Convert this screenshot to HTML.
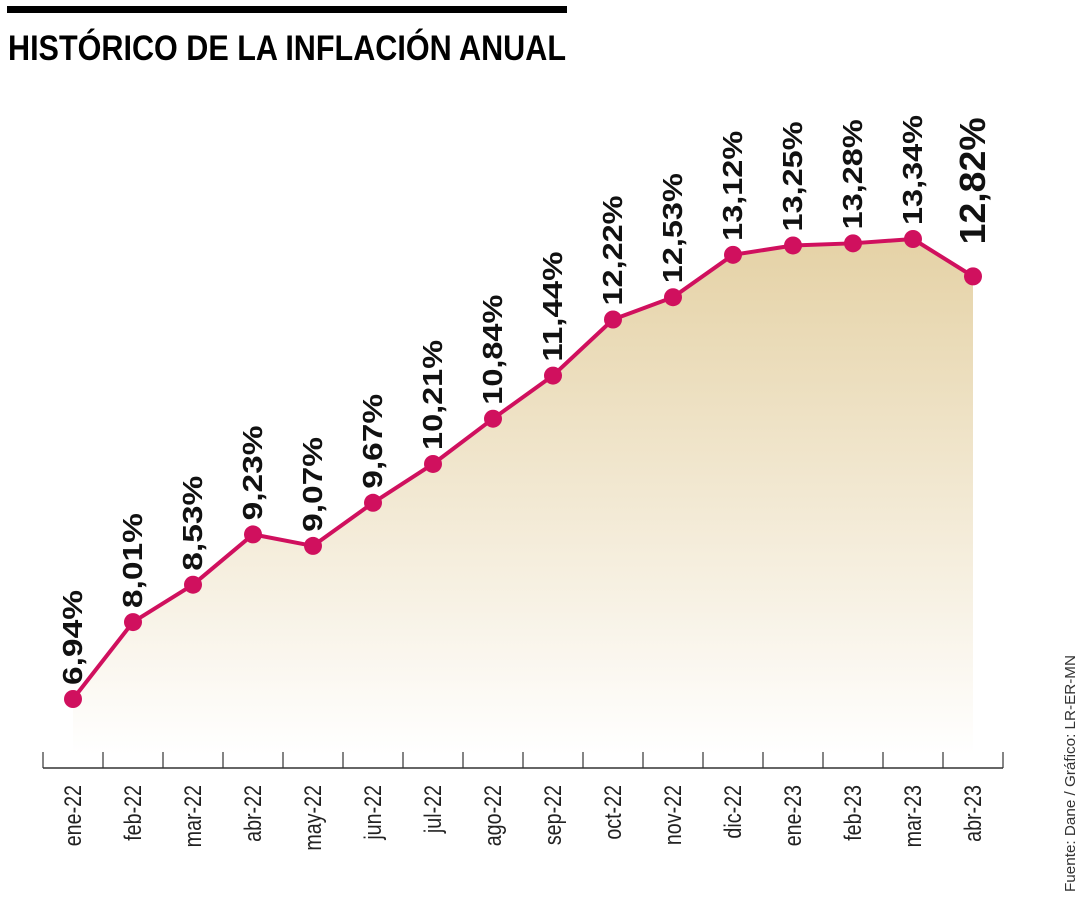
<!DOCTYPE html>
<html><head><meta charset="utf-8"><style>
html,body{margin:0;padding:0;background:#fff;}
svg{display:block;font-family:"Liberation Sans",sans-serif;}
</style></head><body>
<svg id="chart" width="1080" height="900" viewBox="0 0 1080 900">
<defs>
<linearGradient id="fillg" x1="0" y1="0" x2="0" y2="1">
<stop offset="0" stop-color="#e5d2a6"/>
<stop offset="1" stop-color="#ffffff"/>
</linearGradient>
</defs>
<rect x="7" y="6" width="560" height="7" fill="#000"/>
<text x="8" y="60" font-size="35" font-weight="bold" textLength="558" lengthAdjust="spacingAndGlyphs" fill="#000">HISTÓRICO DE LA INFLACIÓN ANUAL</text>
<text transform="translate(1075,892) rotate(-90)" font-size="15" textLength="237" lengthAdjust="spacingAndGlyphs" fill="#333">Fuente: Dane / Gráfico: LR-ER-MN</text>
<g id="plot"></g>
</svg>
<script>
const categories = ["ene-22","feb-22","mar-22","abr-22","may-22","jun-22","jul-22","ago-22","sep-22","oct-22","nov-22","dic-22","ene-23","feb-23","mar-23","abr-23"];
const values = [6.94,8.01,8.53,9.23,9.07,9.67,10.21,10.84,11.44,12.22,12.53,13.12,13.25,13.28,13.34,12.82];
const valueLabels = ["6,94%","8,01%","8,53%","9,23%","9,07%","9,67%","10,21%","10,84%","11,44%","12,22%","12,53%","13,12%","13,25%","13,28%","13,34%","12,82%"];

const NS = "http://www.w3.org/2000/svg";
const g = document.getElementById('plot');
function xPos(i){ return 73 + i*60; }
function yPos(v){ return 699 - (v - 6.94) * 71.875; }
function mk(tag, attrs){ const e=document.createElementNS(NS,tag); for(const k in attrs) e.setAttribute(k,attrs[k]); g.appendChild(e); return e; }

let d = "M"+xPos(0)+",755 ";
values.forEach((v,i)=>{ d += "L"+xPos(i)+","+yPos(v)+" "; });
d += "L"+xPos(values.length-1)+",755 Z";
const area = mk('path',{d:d,fill:'url(#fillg)'});



const axis = mk('line',{x1:43,y1:768,x2:1003,y2:768,stroke:'#333','stroke-width':1.5});


for(let i=0;i<=categories.length;i++){
  const t = mk('line',{x1:xPos(i)-30,y1:752,x2:xPos(i)-30,y2:768,stroke:'#333','stroke-width':1.2});
  
  
}
categories.forEach((c,i)=>{
  const t = mk('text',{transform:'translate('+(xPos(i)+8)+',785) rotate(-90) scale(0.82,1)','text-anchor':'end','font-size':24,fill:'#222'});
  t.textContent = c;
  
  
});

const pts = values.map((v,i)=>xPos(i)+","+yPos(v)).join(" ");
const line = mk('polyline',{points:pts,fill:'none',stroke:'#d0105e','stroke-width':4,'stroke-linejoin':'round'});



values.forEach((v,i)=>{
  const c = mk('circle',{cx:xPos(i),cy:yPos(v),r:9,fill:'#d0105e'});
  
  
  const last = i===values.length-1;
  const txt = valueLabels[i];
  const len = last ? 127 : (txt.length>5 ? 110 : 95);
  const gap = last ? 32 : 14;
  const t = mk('text',{transform:'translate('+(xPos(i)+(last?12:9))+','+(yPos(v)-gap)+') rotate(-90)','font-size':last?36:28,'font-weight':'bold',fill:'#111',textLength:len,lengthAdjust:'spacingAndGlyphs'});
  t.textContent = txt;
  
  
});
</script>
</body></html>
